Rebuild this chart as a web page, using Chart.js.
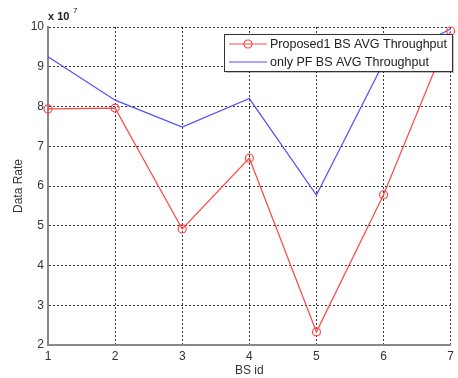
<!DOCTYPE html>
<html>
<head>
<meta charset="utf-8">
<script src="https://cdn.jsdelivr.net/npm/chart.js@4"></script>
<style>
  html, body { margin: 0; padding: 0; background: #fff; }
  #wrap { width: 458px; height: 378px; }
</style>
</head>
<body>
<div id="wrap"><canvas id="myChart" width="458" height="378"></canvas></div>
<script>
// data (values in units of 1e7)
const bsIds = [1, 2, 3, 4, 5, 6, 7]
const proposedThroughput = [7.94, 7.96, 4.92, 6.70, 2.33, 5.78, 9.90]
const onlyPfThroughput = [9.25, 8.16, 7.48, 8.20, 5.77, 9.10, 9.95]
const yTicks = [2, 3, 4, 5, 6, 7, 8, 9, 10]
const seriesLabels = ['Proposed1 BS AVG Throughput', 'only PF BS AVG Throughput']

const FONT = "'Liberation Sans', Arial, sans-serif"
const scale = 1e7

/////////////////////////////////////////////////////////////
// plugins: box legend inside the plot + "x 10^7" multiplier
const boxLegend = {
    id: 'boxLegend',
    afterDraw(chart) {
        const ctx = chart.ctx
        const x0 = 224, y0 = 34, w = 228, h = 37
        ctx.save()
        // small shadow
        ctx.fillStyle = 'rgba(0,0,0,0.25)'
        ctx.fillRect(x0 + 2, y0 + 2, w, h)
        ctx.fillStyle = '#fff'
        ctx.fillRect(x0, y0, w, h)
        ctx.strokeStyle = '#333'
        ctx.lineWidth = 1
        ctx.strokeRect(x0 + 0.5, y0 + 0.5, w, h)

        ctx.font = '12.5px ' + FONT
        ctx.textBaseline = 'middle'
        chart.data.datasets.forEach((ds, i) => {
            const yy = y0 + 10 + i * 18
            ctx.strokeStyle = ds.borderColor
            ctx.lineWidth = ds.borderWidth
            ctx.beginPath()
            ctx.moveTo(x0 + 5, yy)
            ctx.lineTo(x0 + 43, yy)
            ctx.stroke()
            if (ds.pointRadius > 0) {
                ctx.beginPath()
                ctx.arc(x0 + 24, yy, ds.pointRadius, 0, Math.PI * 2)
                ctx.stroke()
            }
            ctx.fillStyle = '#222'
            ctx.fillText(ds.label, x0 + 46, yy + 1)
        })
        ctx.restore()
    }
}

const multiplier = {
    id: 'multiplier',
    afterDraw(chart) {
        const ctx = chart.ctx
        const a = chart.chartArea
        ctx.save()
        ctx.fillStyle = '#222'
        ctx.textBaseline = 'alphabetic'
        ctx.font = 'bold 11px ' + FONT
        ctx.fillText('x 10', a.left, a.top - 7)
        ctx.font = '8px ' + FONT
        ctx.fillText('7', a.left + 25, a.top - 14)
        ctx.restore()
    }
}

// setup
const data = {
    datasets: [{
        label: seriesLabels[0],
        data: bsIds.map((id, i) => ({ x: id, y: proposedThroughput[i] * scale })),
        borderColor: 'rgba(255, 70, 70, 1)',
        backgroundColor: 'rgba(0,0,0,0)',
        borderWidth: 1.2,
        pointRadius: 4,
        pointBorderWidth: 1.2,
        pointStyle: 'circle',
        tension: 0,
        order: 1
    },
    {
        label: seriesLabels[1],
        data: bsIds.map((id, i) => ({ x: id, y: onlyPfThroughput[i] * scale })),
        borderColor: 'rgba(80, 80, 255, 1)',
        backgroundColor: 'rgba(0,0,0,0)',
        borderWidth: 1.2,
        pointRadius: 0,
        tension: 0,
        order: 2
    }]
}

const tickFont = { family: FONT, size: 12 }

// config
const config = {
    type: 'line',
    data,
    plugins: [boxLegend, multiplier],
    options: {
        responsive: false,
        animation: false,
        clip: false,
        layout: {
            autoPadding: false,
            padding: { top: 27, right: 3, left: 0, bottom: 0 }
        },
        plugins: {
            legend: { display: false },
            tooltip: { enabled: false }
        },
        scales: {
            x: {
                type: 'linear',
                min: 1,
                max: 7,
                afterFit: (s) => { s.height = 33 },
                afterBuildTicks: (s) => { s.ticks = bsIds.map(v => ({ value: v })) },
                ticks: {
                    padding: 4,
                    color: '#333',
                    font: tickFont,
                    maxRotation: 0,
                    callback: (v) => v
                },
                grid: { color: '#333', lineWidth: 1, drawTicks: false },
                // in v4 border.dash styles the grid lines
                border: { display: true, color: '#888', width: 2, dash: [2, 2] },
                title: {
                    display: true,
                    text: 'BS id',
                    color: '#333',
                    font: tickFont,
                    padding: { top: 0, bottom: 0 }
                }
            },
            y: {
                min: 2 * scale,
                max: 10 * scale,
                afterFit: (s) => { s.width = 48 },
                afterBuildTicks: (s) => { s.ticks = yTicks.map(v => ({ value: v * scale })) },
                ticks: {
                    padding: 4,
                    color: '#333',
                    font: tickFont,
                    callback: (v) => v / scale
                },
                grid: { color: '#333', lineWidth: 1, drawTicks: false },
                border: { display: true, color: '#888', width: 2, dash: [2, 2] },
                title: {
                    display: true,
                    text: 'Data Rate',
                    color: '#333',
                    font: tickFont,
                    padding: { top: 11, bottom: 0 }
                }
            }
        }
    }
}

// render / init
const myChart = new Chart(document.getElementById('myChart'), config)
</script>
</body>
</html>
